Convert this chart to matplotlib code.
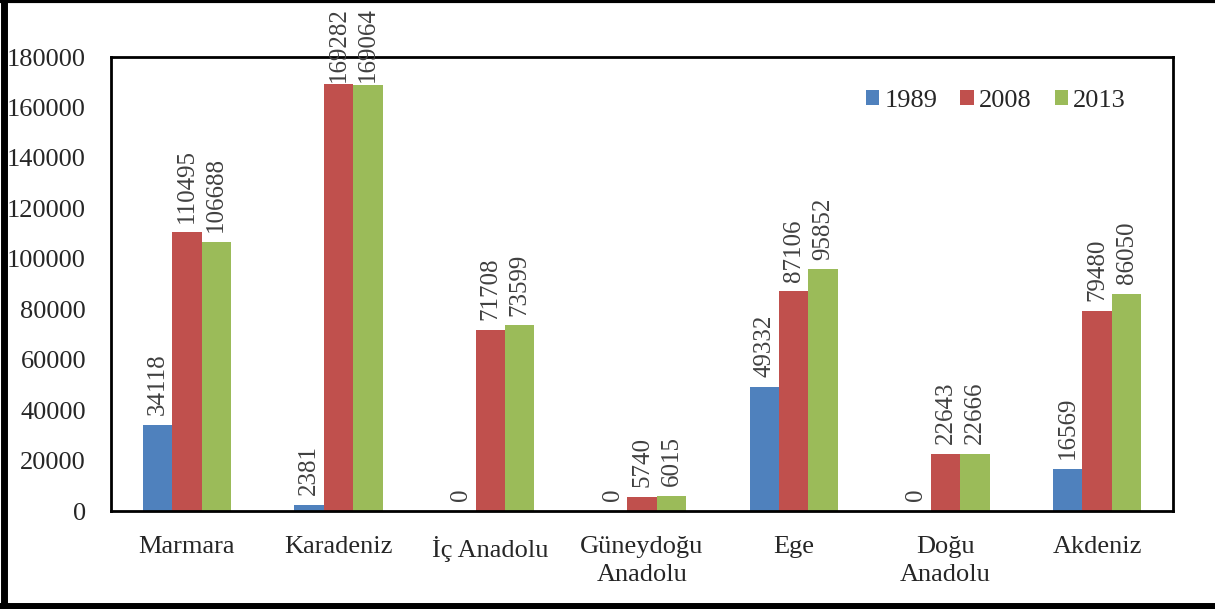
import matplotlib.pyplot as plt
import numpy as np
from matplotlib.lines import Line2D

regions = ["Marmara", "Karadeniz", "İç Anadolu", "Güneydoğu\nAnadolu", "Ege", "Doğu\nAnadolu", "Akdeniz"]
years = ["1989", "2008", "2013"]
v1989 = [34118, 2381, 0, 0, 49332, 0, 16569]
v2008 = [110495, 169282, 71708, 5740, 87106, 22643, 79480]
v2013 = [106688, 169064, 73599, 6015, 95852, 22666, 86050]
colors = ["#4F81BD", "#C0504D", "#9BBB59"]

plt.rcParams['font.family'] = ['Liberation Serif', 'DejaVu Serif']

fig = plt.figure(figsize=(12.15, 6.09), dpi=100)
ax = fig.add_axes([111 / 1215, 1 - 511 / 609, 1062 / 1215, 454 / 609])

x = np.arange(len(regions))
w = 0.194
series = [v1989, v2008, v2013]
for i, vals in enumerate(series):
    pos = x + (i - 1) * w
    ax.bar(pos, vals, w, color=colors[i], label=years[i], zorder=2)
    for px, v in zip(pos, vals):
        # labels near the top get squeezed so they stay inside the chart
        off = 1.5 if v > 160000 else 7
        ax.annotate(str(v), (px, v), xytext=(0, off), textcoords="offset points",
                    rotation=90, ha="center", va="bottom", fontsize=18,
                    color="#404040", annotation_clip=False, zorder=3)

ax.set_xlim(-0.5, 6.5)
ax.set_ylim(0, 180000)
ax.set_yticks(np.arange(0, 180001, 20000))
ax.set_xticks(x)
ax.set_xticklabels(regions, fontsize=19, color="#262626", linespacing=1.35)
ax.tick_params(axis="y", labelsize=19, labelcolor="#262626", length=0, pad=18)
ax.tick_params(axis="x", length=0, pad=18)
for s in ax.spines.values():
    s.set_linewidth(2)
    s.set_color("black")

ax.legend(loc="upper right", bbox_to_anchor=(0.978, 0.98), ncol=3, frameon=False,
          fontsize=19, handlelength=0.5, handleheight=0.5, handletextpad=0.2,
          columnspacing=0.87, labelcolor="#262626")

# outer frame (left, top, bottom)
fig.add_artist(Line2D([0.003, 0.003], [0, 1], transform=fig.transFigure, color="black", lw=5))
fig.add_artist(Line2D([0, 1], [0.998, 0.998], transform=fig.transFigure, color="black", lw=3))
fig.add_artist(Line2D([0, 1], [0.005, 0.005], transform=fig.transFigure, color="black", lw=5))

fig.savefig("out.png", dpi=100)
